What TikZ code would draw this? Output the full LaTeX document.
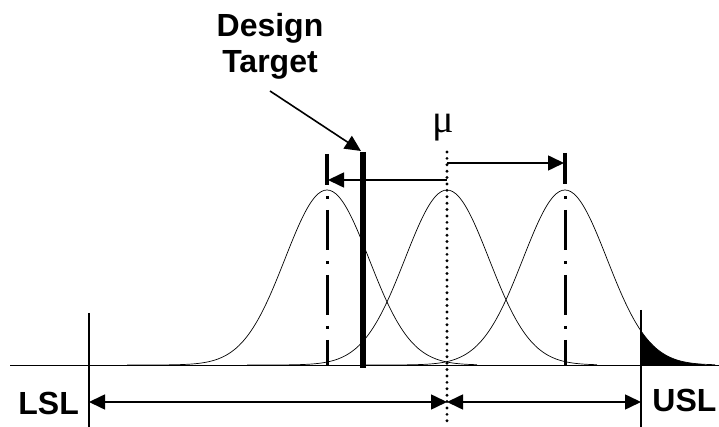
\documentclass[tikz,border=0pt]{standalone}
\usepackage{fontspec}
\setmainfont{Liberation Sans}
\newfontfamily\symfont{Liberation Serif}
\usetikzlibrary{arrows.meta, positioning}

\begin{document}
\begin{tikzpicture}[
    x=0.5pt, y=-0.5pt, >={Triangle[length=8pt,width=7.5pt]},
    lbl/.style={font=\fontsize{16}{18}\selectfont\bfseries, align=center, inner sep=0pt},
    bell/.style={line width=0.35pt, smooth, samples=120},
    limit/.style={line width=0.7pt},
    shiftarr/.style={<-, line width=0.8pt, shorten <=0.5pt},
    specarr/.style={<->, line width=0.8pt},
    centre/.style={line width=1.5pt, dash pattern=on 1.5pt off 5.5pt on 20pt off 5.5pt},
    bar/.style={line width=1.7pt}
]
\useasboundingbox (0,0) rectangle (719,427);

% --- reference points (px of the original, y downwards)
\coordinate (lslTop) at (89,313);   \coordinate (lslBot) at (89,427);
\coordinate (uslTop) at (641,310);  \coordinate (uslBot) at (641,427);
\coordinate (muTop)  at (447,152);  \coordinate (muBot)  at (447,427);
\coordinate (muLow)  at (447,402);  \coordinate (muHiL) at (447,180);
\coordinate (muHiR)  at (447,163);
\coordinate (lowLow) at (89,402);   \coordinate (uslLow) at (641,402);
\coordinate (leftC)  at (327,180);  \coordinate (rightC) at (565,163);

% --- baseline and the three bells
\draw[line width=0.4pt] (10,365) -- (719,365);
\fill (641,365) -- plot[domain=641:705, smooth, samples=40]
      (\x,{365-175*exp(-0.5*((\x-565)/42)^2)}) -- (705,365) -- cycle;
\foreach \c in {327,447,565}
  \draw[bell] plot[domain=\c-200:\c+150] (\x,{365-175*exp(-0.5*((\x-\c)/42)^2)});

% --- spec limits
\draw[limit] (lslTop) -- (lslBot);
\draw[limit] (uslTop) -- (uslBot);
\draw[specarr] (lowLow) -- (muLow);
\draw[specarr] (muLow) -- (uslLow);

% --- mean and shifted centres
\draw[line width=1.6pt, dash pattern=on 0pt off 3.2pt, line cap=round] (muTop) -- (muBot);
\draw[bar] (327,154) -- (327,185);
\draw[bar] (565,153) -- (565,184);
\draw[centre] (327,196) -- (327,365);
\draw[centre] (565,196) -- (565,365);
\draw[shiftarr] (leftC) -- (muHiL);
\draw[shiftarr] (rightC) -- (muHiR);

% --- design target
\coordinate (dtTop) at (363,152); \coordinate (dtBot) at (363,368);
\draw[line width=2.6pt] (dtTop) -- (dtBot);
\node[lbl] (design) at (270,46) {Design\\Target};
\coordinate (dtTail) at (270,91);
\draw[->, line width=0.8pt] (dtTail) -- (361,151);

\node[inner sep=0pt, font=\symfont\fontsize{20}{22}\selectfont] (mu) at (443,128) {μ};
\node[lbl, anchor=west] (lsl) at (18,403) {LSL};
\node[lbl, anchor=west] (usl) at (652,400) {USL};
\end{tikzpicture}
\end{document}
